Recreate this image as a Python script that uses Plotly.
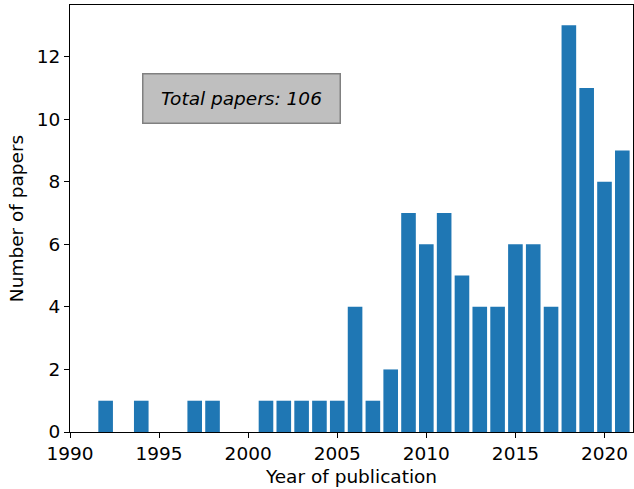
import plotly.graph_objects as go

years = [1992, 1994, 1997, 1998, 2001, 2002, 2003, 2004, 2005, 2006, 2007, 2008,
         2009, 2010, 2011, 2012, 2013, 2014, 2015, 2016, 2017, 2018, 2019, 2020, 2021]
counts = [1, 1, 1, 1, 1, 1, 1, 1, 1, 4, 1, 2,
          7, 6, 7, 5, 4, 4, 6, 6, 4, 13, 11, 8, 9]
x_ticks = [1990, 1995, 2000, 2005, 2010, 2015, 2020]
y_ticks = [0, 2, 4, 6, 8, 10, 12]
total_label = f"Total papers: {sum(counts)}"

FONT = "DejaVu Sans"
FS = 18.5

fig = go.Figure()
fig.add_trace(go.Bar(x=years, y=counts, width=0.82, marker=dict(color="#1f77b4", line=dict(width=0))))

axis_common = dict(
    showline=True, mirror=True, linecolor="black", linewidth=1.2,
    ticks="outside", ticklen=5, tickwidth=1.2, tickcolor="black",
    showgrid=False, zeroline=False,
    tickfont=dict(family=FONT, size=FS, color="black"),
)

fig.update_layout(
    width=634, height=489,
    margin=dict(l=70, r=1, t=5, b=57),
    paper_bgcolor="white", plot_bgcolor="white",
    showlegend=False,
    font=dict(family=FONT, size=FS, color="black"),
    xaxis=dict(range=[1990, 2021.6], tickvals=x_ticks,
               title=dict(text="Year of publication", font=dict(family=FONT, size=FS), standoff=6),
               **axis_common),
    yaxis=dict(range=[0, 13.65], tickvals=y_ticks,
               title=dict(text="Number of papers", font=dict(family=FONT, size=FS), standoff=8),
               **axis_common),
)

fig.add_annotation(
    x=1999.65, y=10.66, xref="x", yref="y",
    text=f"<i>{total_label}</i>", showarrow=False,
    font=dict(family=FONT, size=FS, color="black"),
    bgcolor="#bfbfbf", bordercolor="#808080", borderwidth=1.5, borderpad=1,
    width=194, height=46,
)

fig.write_html("out.html", config={"displayModeBar": False},
               post_script="document.body.style.margin='0';document.body.style.overflow='hidden';")
